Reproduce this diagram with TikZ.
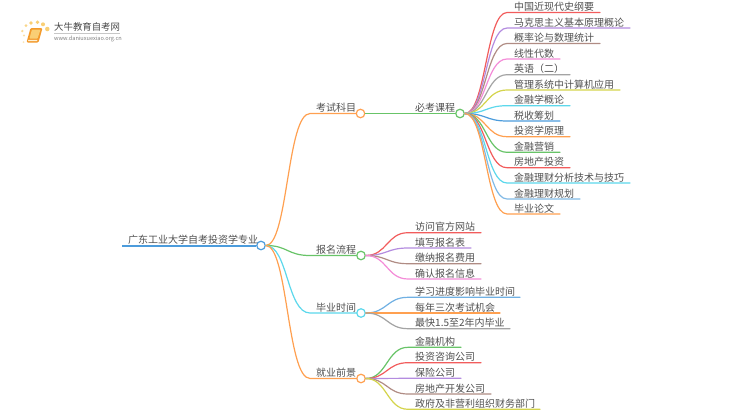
\documentclass[tikz,border=0pt]{standalone}
\usepackage{fontspec}
\setmainfont{Noto Sans CJK SC}
\definecolor{cred}{HTML}{F25C5C}
\definecolor{cpur}{HTML}{B48CE0}
\definecolor{cbro}{HTML}{B08C84}
\definecolor{cpin}{HTML}{F48CD8}
\definecolor{cgra}{HTML}{A4A4A4}
\definecolor{coli}{HTML}{D4D44C}
\definecolor{ccya}{HTML}{5CD8EC}
\definecolor{cblu}{HTML}{4C9CDC}
\definecolor{cora}{HTML}{FFA050}
\definecolor{cgre}{HTML}{68C468}
\definecolor{ctxt}{HTML}{505050}
\definecolor{cgold}{HTML}{F9CF75}
\definecolor{cbook}{HTML}{F39A2B}
\tikzset{
  x=1pt,y=-1pt,
  every node/.style={font=\fontsize{10}{12}\selectfont,text=ctxt},
  lbl/.style={rectangle,anchor=south west,inner ysep=0.1pt,inner xsep=0pt,text height=8.5pt,text depth=1.5pt},
  dotc/.style={circle,fill=white,draw=#1,line width=1.2pt,minimum size=8.5pt,inner sep=0pt},
  conn/.style={line width=1.2pt,line cap=round,draw=#1},
  logodot/.style={circle,fill=cgold,draw=none,inner sep=0pt},
}
% \leaf{name}{parent}{y}{x start}{x end}{colour}{text}
\newcommand{\leaf}[7]{%
  \coordinate (#1s) at (#4,#3);
  \coordinate (#1e) at (#5,#3);
  \node[lbl] (#1) at (#4+7,#3) {#7};
  \draw[conn=#6] (#2.east) .. controls ($(#2.east)!0.5!(#2.east-|#1s)$) and ($(#1s)!0.5!(#2.east|-#1s)$) .. (#1s) -- (#1e);
}
\usetikzlibrary{calc}
\begin{document}
\begin{tikzpicture}
\useasboundingbox (0,0) rectangle (750,410);
\fill[white] (0,0) rectangle (750,410);
% logo
\fill[cbook,rounded corners=1.2pt] (30.5,28) -- (42.5,28) -- (38.5,42.5) -- (26.5,42.5) -- cycle;
\fill[cgold,rounded corners=.6pt] (32,29.5) -- (40.5,29.5) -- (37.6,38.5) -- (29.4,38.5) -- cycle;
\fill[white!70!cgold] (28.4,39.8) -- (37.4,39.8) -- (37,41) -- (28,41) -- cycle;
\node[logodot,minimum size=4.5pt] (d1) at (47.3,29) {};
\node[logodot,minimum size=4pt] (d2) at (43,24.3) {};
\node[logodot,minimum size=3.8pt] (d3) at (37.5,22.2) {};
\node[logodot,minimum size=3.6pt] (d4) at (31,23) {};
\node[logodot,minimum size=3.2pt,opacity=.85] (d5) at (26,25.6) {};
\node[logodot,minimum size=2.6pt,opacity=.75] (d6) at (22.3,31) {};
\node[logodot,minimum size=2.4pt,opacity=.65] (d7) at (24,35.5) {};
\node[logodot,minimum size=2pt,opacity=.5] (d8) at (23.5,42) {};
\node[anchor=west,inner sep=0pt,font=\fontsize{9.4}{11}\selectfont,text=black!72] (lt) at (54,27) {大牛教育自考网};
\draw[black!22,line width=.6pt] (54,33.3) -- (120,33.3);
\node[anchor=west,inner sep=0pt,font=\fontsize{5.6}{7}\selectfont,text=black!50] (lu) at (54,38.7) {www.daniuxuexiao.org.cn};
% root
\node[dotc=cblu] (root) at (261,245.5) {};
\node[lbl] (rt) at (128,245.5) {广东工业大学自考投资学专业};
\draw[draw=cblu,line width=2pt] (root.west) -- (122,245.5);
% level 1
\node[dotc=cora] (b1) at (360.5,113.5) {};
\node[dotc=cgre] (b2) at (361,255.5) {};
\node[dotc=ccya] (b3) at (361,313) {};
\node[dotc=cora] (b4) at (361,378.5) {};
\node[lbl] (b1t) at (316,113.5) {考试科目};
\node[lbl] (b2t) at (316,255.5) {报名流程};
\node[lbl] (b3t) at (316,313) {毕业时间};
\node[lbl] (b4t) at (316,378.5) {就业前景};
\foreach \n/\c in {b1/cora,b2/cgre,b3/ccya,b4/cora}{
  \draw[conn=\c] (root.east) .. controls ($(root.east)!0.5!(root.east-|310,0)$) and (287,0|-\n) .. (310,0|-\n) -- (\n.west);
}
% must-take
\node[dotc=cgre] (m) at (460,113.5) {};
\node[lbl] (mt) at (415,113.5) {必考课程};
\draw[conn=cgre] (b1.east) -- (m.west);
% leaves
\leaf{a1}{m}{12.5}{507}{600}{cred}{中国近现代史纲要}
\leaf{a2}{m}{28}{507}{630}{cpur}{马克思主义基本原理概论}
\leaf{a3}{m}{43.5}{507}{600}{cbro}{概率论与数理统计}
\leaf{a4}{m}{59}{507}{560}{cpin}{线性代数}
\leaf{a5}{m}{74.7}{507}{570}{cgra}{英语（二）}
\leaf{a6}{m}{90}{507}{620}{coli}{管理系统中计算机应用}
\leaf{a7}{m}{105.7}{507}{570}{ccya}{金融学概论}
\leaf{a8}{m}{121}{507}{560}{cblu}{税收筹划}
\leaf{a9}{m}{136.7}{507}{570}{cora}{投资学原理}
\leaf{a10}{m}{152.3}{507}{560}{cgre}{金融营销}
\leaf{a11}{m}{167.7}{507}{570}{cred}{房地产投资}
\leaf{a12}{m}{183}{507}{630}{ccya}{金融理财分析技术与技巧}
\leaf{a13}{m}{199}{507}{580}{cblu!70!white}{金融理财规划}
\leaf{a14}{m}{214}{507}{560}{cora}{毕业论文}
\leaf{p1}{b2}{232.7}{408}{481}{cred}{访问官方网站}
\leaf{p2}{b2}{248}{408}{471}{cpur}{填写报名表}
\leaf{p3}{b2}{263.7}{408}{481}{cbro}{缴纳报名费用}
\leaf{p4}{b2}{279}{408}{481}{cpin}{确认报名信息}
\leaf{t1}{b3}{297.3}{408}{520}{cblu!80!white}{学习进度影响毕业时间}
\leaf{t2}{b3}{313}{408}{500}{cora}{每年三次考试机会}
\leaf{t3}{b3}{328.7}{408}{510}{cgra}{最快1.5至2年内毕业}
\leaf{j1}{b4}{347.3}{408}{461}{cgre}{金融机构}
\leaf{j2}{b4}{362.7}{408}{481}{cred}{投资咨询公司}
\leaf{j3}{b4}{378.3}{408}{461}{cpur}{保险公司}
\leaf{j4}{b4}{394}{408}{491}{cbro}{房地产开发公司}
\leaf{j5}{b4}{409.3}{408}{540}{coli}{政府及非营利组织财务部门}
\end{tikzpicture}
\end{document}
